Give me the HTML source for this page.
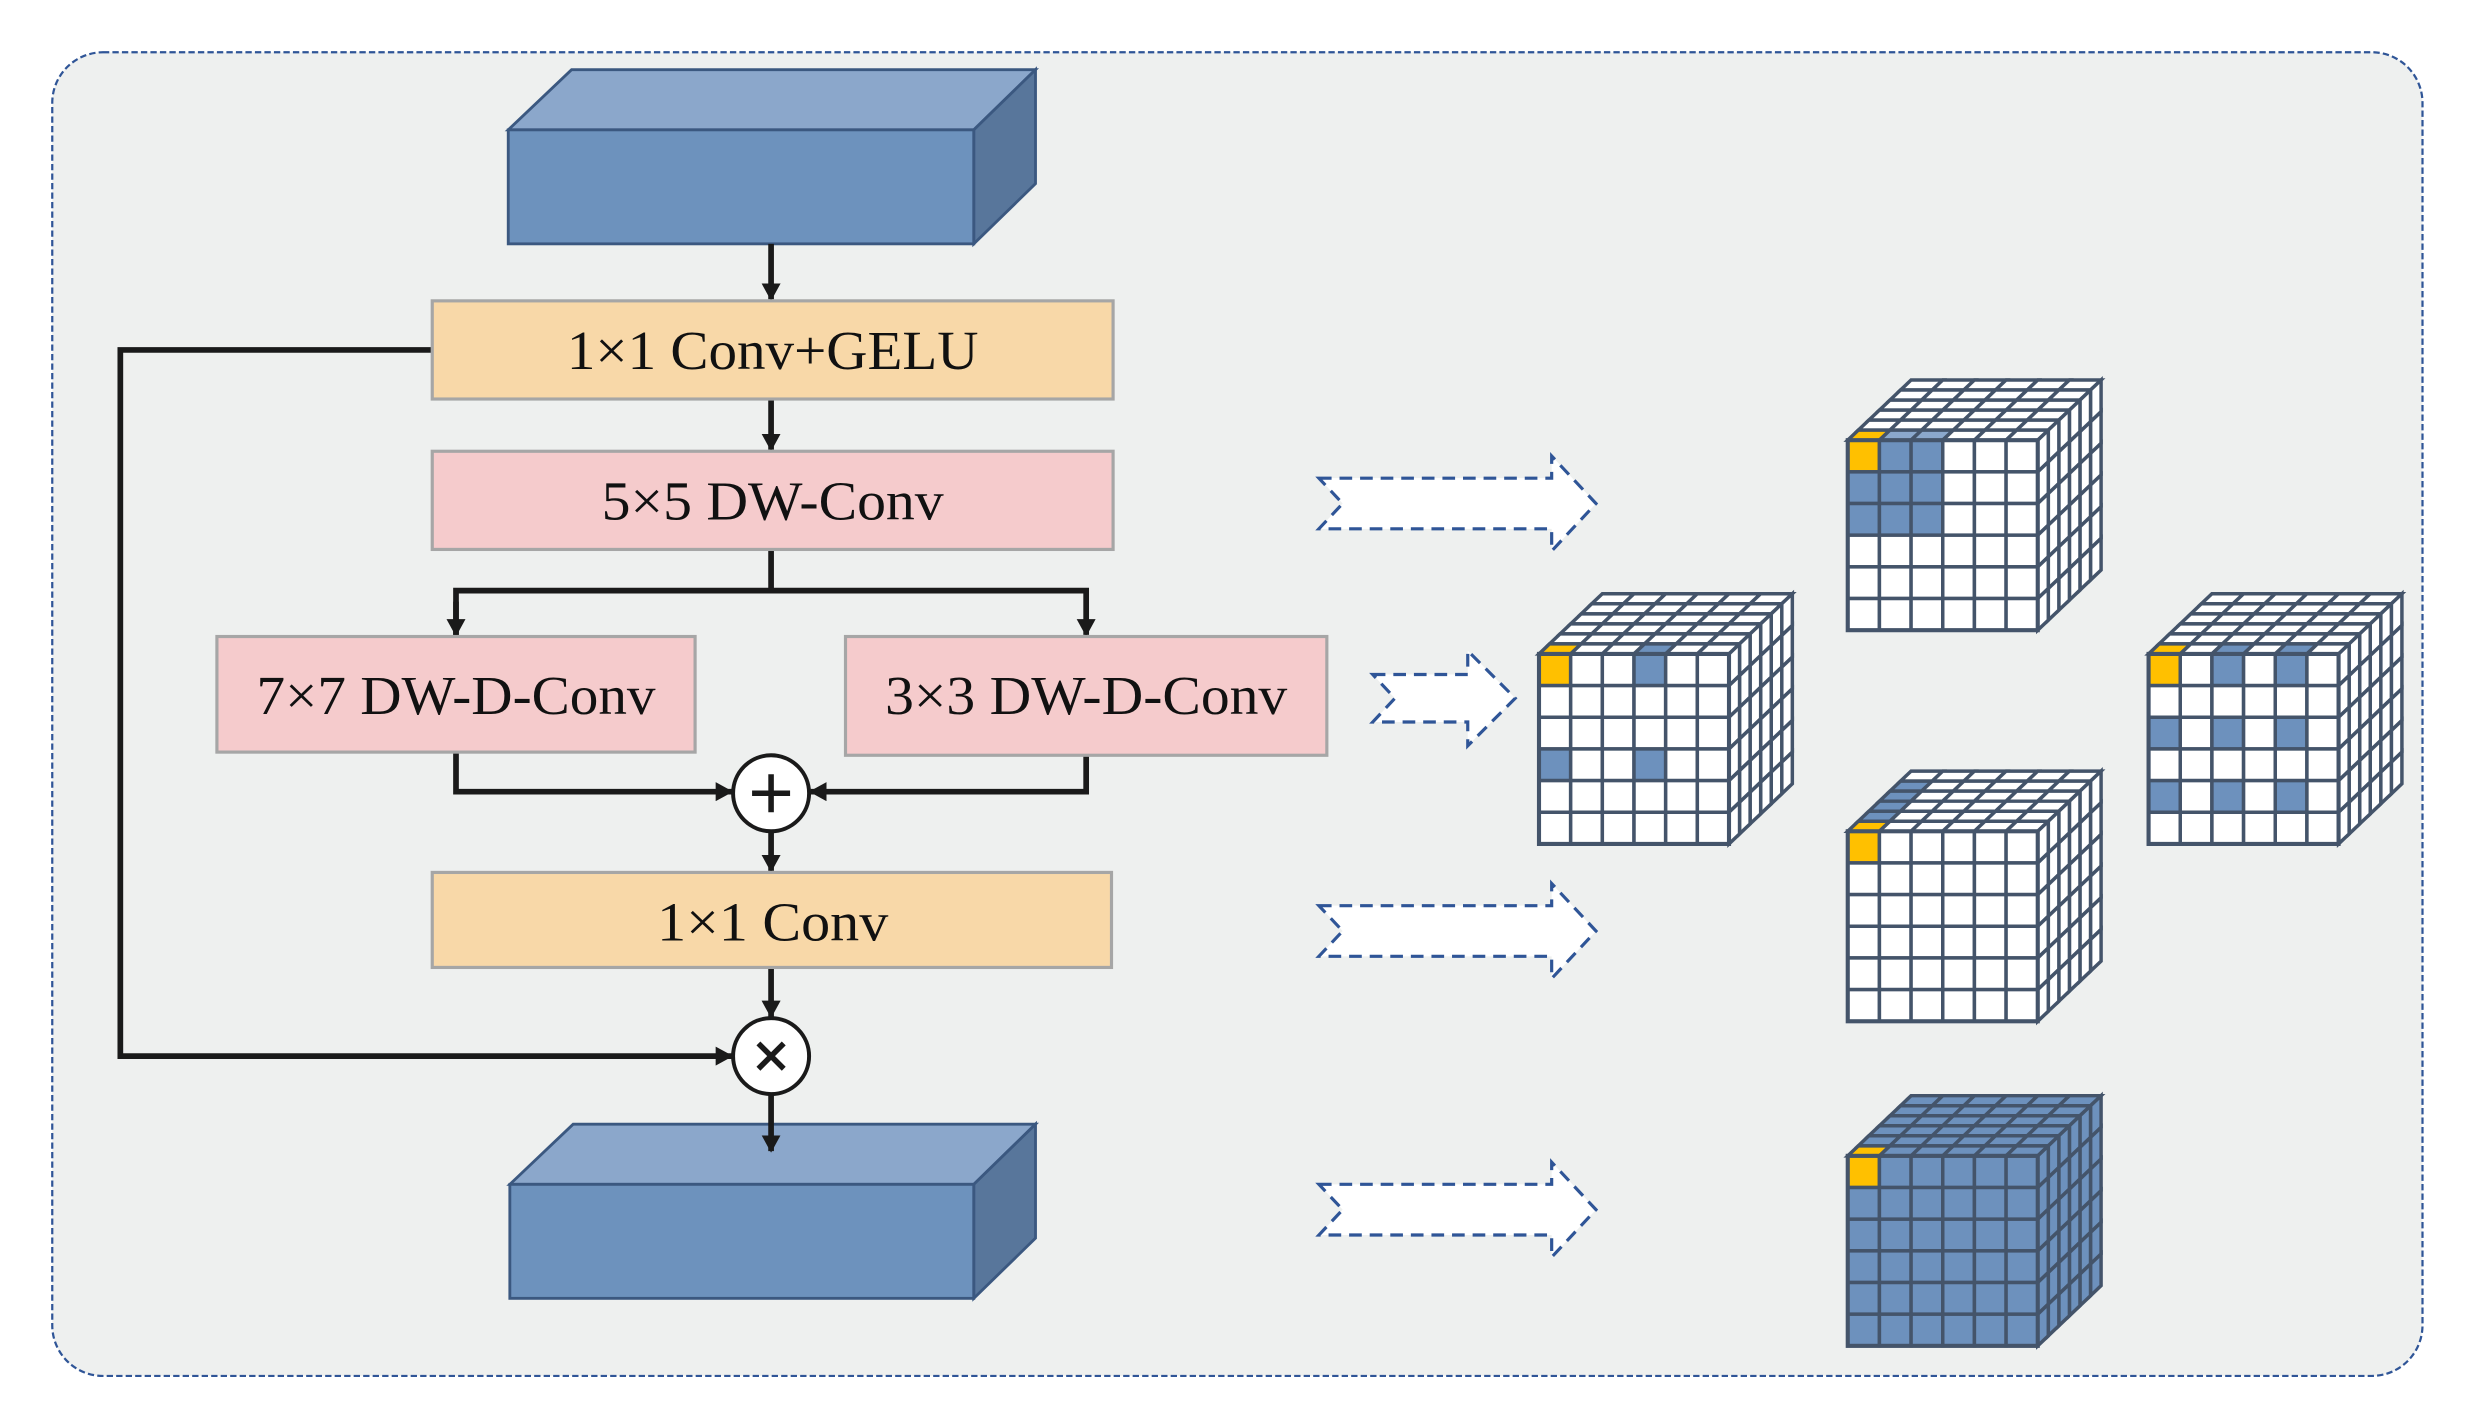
<!DOCTYPE html>
<html><head><meta charset="utf-8"><style>
html,body{margin:0;padding:0;background:#fff;}
svg{display:block;}
text{font-family:"Liberation Serif",serif;fill:#111;}
</style></head><body>
<svg id="s" width="2470" height="1413" viewBox="0 0 1560 892.4" xmlns="http://www.w3.org/2000/svg">
<defs>
<marker id="ah" markerWidth="11" markerHeight="12" refX="10" refY="6" orient="auto" markerUnits="userSpaceOnUse">
<path d="M0,0 L11,6 L0,12 Z" fill="#1a1a1a"/>
</marker>
</defs>
<rect x="33" y="33" width="1497" height="836" rx="32" fill="#eef0ef" stroke="#2f5597" stroke-width="1.4" stroke-dasharray="4,2"/>

<polygon points="321,82 361,44 654,44 615,82" fill="#8ba7cb" stroke="#3b5880" stroke-width="1.8"/>
<polygon points="615,82 654,44 654,116 615,154" fill="#58769b" stroke="#3b5880" stroke-width="1.8"/>
<rect x="321" y="82" width="294" height="72" fill="#6d92bd" stroke="#3b5880" stroke-width="1.8"/>

<g stroke="#1a1a1a" stroke-width="3.6" fill="none">
<line x1="487" y1="154" x2="487" y2="189" marker-end="url(#ah)"/>
<line x1="487" y1="252" x2="487" y2="284" marker-end="url(#ah)"/>
<polyline points="487,347 487,373"/>
<polyline points="288,401 288,373 686,373 686,401" marker-end="url(#ah)"/>
<line x1="288" y1="380" x2="288" y2="401" marker-end="url(#ah)"/>
<polyline points="288,475 288,500 462,500" marker-end="url(#ah)"/>
<polyline points="686,477 686,500 512,500" marker-end="url(#ah)"/>
<line x1="487" y1="525" x2="487" y2="550" marker-end="url(#ah)"/>
<line x1="487" y1="611" x2="487" y2="642" marker-end="url(#ah)"/>
<polyline points="273,221 76,221 76,667 462,667" marker-end="url(#ah)"/>
</g>

<g stroke="#a6a6a6" stroke-width="2">
<rect x="273" y="190" width="430" height="62" fill="#f8d8a8"/>
<rect x="273" y="285" width="430" height="62" fill="#f5cbcc"/>
<rect x="137" y="402" width="302" height="73" fill="#f5cbcc"/>
<rect x="534" y="402" width="304" height="75" fill="#f5cbcc"/>
<rect x="273" y="551" width="429" height="60" fill="#f8d8a8"/>
</g>
<g font-size="35" text-anchor="middle">
<text x="488" y="233" textLength="260" lengthAdjust="spacingAndGlyphs">1×1 Conv+GELU</text>
<text x="488" y="328" textLength="216" lengthAdjust="spacingAndGlyphs">5×5 DW-Conv</text>
<text x="288" y="451" textLength="252" lengthAdjust="spacingAndGlyphs">7×7 DW-D-Conv</text>
<text x="686" y="451" textLength="254" lengthAdjust="spacingAndGlyphs">3×3 DW-D-Conv</text>
<text x="488" y="594" textLength="146" lengthAdjust="spacingAndGlyphs">1×1 Conv</text>
</g>

<circle cx="487" cy="501" r="24" fill="#fff" stroke="#1a1a1a" stroke-width="2.5"/>
<path d="M487,489 V513 M475,501 H499" stroke="#1a1a1a" stroke-width="3.5"/>
<circle cx="487" cy="667" r="24" fill="#fff" stroke="#1a1a1a" stroke-width="2.5"/>
<path d="M479,659 L495,675 M495,659 L479,675" stroke="#1a1a1a" stroke-width="3.5"/>

<polygon points="322,748 362,710 654,710 615,748" fill="#8ba7cb" stroke="#3b5880" stroke-width="1.8"/>
<polygon points="615,748 654,710 654,782 615,820" fill="#58769b" stroke="#3b5880" stroke-width="1.8"/>
<rect x="322" y="748" width="293" height="72" fill="#6d92bd" stroke="#3b5880" stroke-width="1.8"/>
<line x1="487" y1="691" x2="487" y2="727" stroke="#1a1a1a" stroke-width="3.6" marker-end="url(#ah)"/>

<g id="arrows" fill="#fff" stroke="#2f5597" stroke-width="2" stroke-dasharray="8,5"></g>
<g id="cubes"></g>
</svg>
<script>
var NS="http://www.w3.org/2000/svg";
function el(p,tag,attrs){var e=document.createElementNS(NS,tag);for(var k in attrs)e.setAttribute(k,attrs[k]);p.appendChild(e);return e;}
var ag=document.getElementById('arrows');
function arrow(x0,x1,hx,yc,bh,hh,notch){
 var pts=[[x0,yc-bh],[hx,yc-bh],[hx,yc-hh],[x1,yc],[hx,yc+hh],[hx,yc+bh],[x0,yc+bh],[x0+notch,yc]];
 el(ag,'polygon',{points:pts.map(function(p){return p.join(',')}).join(' ')});
}
arrow(833,1008,980,318,16,30,15);
arrow(833,1008,980,588,16,30,15);
arrow(833,1008,980,764,16,30,15);
arrow(867,957,927,441,15,30,14);

var cg=document.getElementById('cubes');
var B="#6d91bd",Y="#ffc000",L="#8ba8cc",W="#fff";
function cube(x0,y0,front,top,side){
 var c=20,n=6,dx=40/6,dy=-38/6;
 var g=el(cg,'g',{stroke:'#44546a','stroke-width':2.2,'stroke-linejoin':'miter'});
 for(var k=n-1;k>=0;k--)for(var i=0;i<n;i++){
  var a=[x0+i*c+k*dx,y0+k*dy],b=[a[0]+c,a[1]],d=[b[0]+dx,b[1]+dy],e=[a[0]+dx,a[1]+dy];
  el(g,'polygon',{points:[a,b,d,e].map(function(p){return p.join(',')}).join(' '),fill:top(i,k)});
 }
 for(var k=n-1;k>=0;k--)for(var j=0;j<n;j++){
  var xs=x0+n*c+k*dx,ys=y0+j*c+k*dy;
  var a=[xs,ys],b=[xs+dx,ys+dy],d=[xs+dx,ys+dy+c],e=[xs,ys+c];
  el(g,'polygon',{points:[a,b,d,e].map(function(p){return p.join(',')}).join(' '),fill:side(j,k)});
 }
 for(var j=0;j<n;j++)for(var i=0;i<n;i++){
  el(g,'rect',{x:x0+i*c,y:y0+j*c,width:c,height:c,fill:front(i,j)});
 }
 el(g,'rect',{x:x0,y:y0,width:n*c,height:n*c,fill:'none','stroke-width':2.6});
}
var w=function(){return W};
cube(1167,278,function(i,j){if(i==0&&j==0)return Y;return(i<3&&j<3)?B:W;},
 function(i,k){if(k==0&&i==0)return Y;if(k==0&&i<3)return L;return W;},w);
cube(972,413,function(i,j){if(i==0&&j==0)return Y;return((i==3||i==0)&&(j==3||j==0))?B:W;},
 function(i,k){if(k==0&&i==0)return Y;if(k==0&&i==3)return B;return W;},w);
cube(1357,413,function(i,j){if(i==0&&j==0)return Y;return(i%2==0&&j%2==0&&i<5&&j<5)?B:W;},
 function(i,k){if(k==0&&i==0)return Y;if(k==0&&(i==2||i==4))return B;return W;},w);
cube(1167,525,function(i,j){return(i==0&&j==0)?Y:W;},
 function(i,k){if(i==0&&k==0)return Y;if(i==0&&k<5)return B;return W;},w);
cube(1167,730,function(i,j){return(i==0&&j==0)?Y:B;},
 function(i,k){return(i==0&&k==0)?Y:B;},function(){return B;});
</script>
</body></html>
